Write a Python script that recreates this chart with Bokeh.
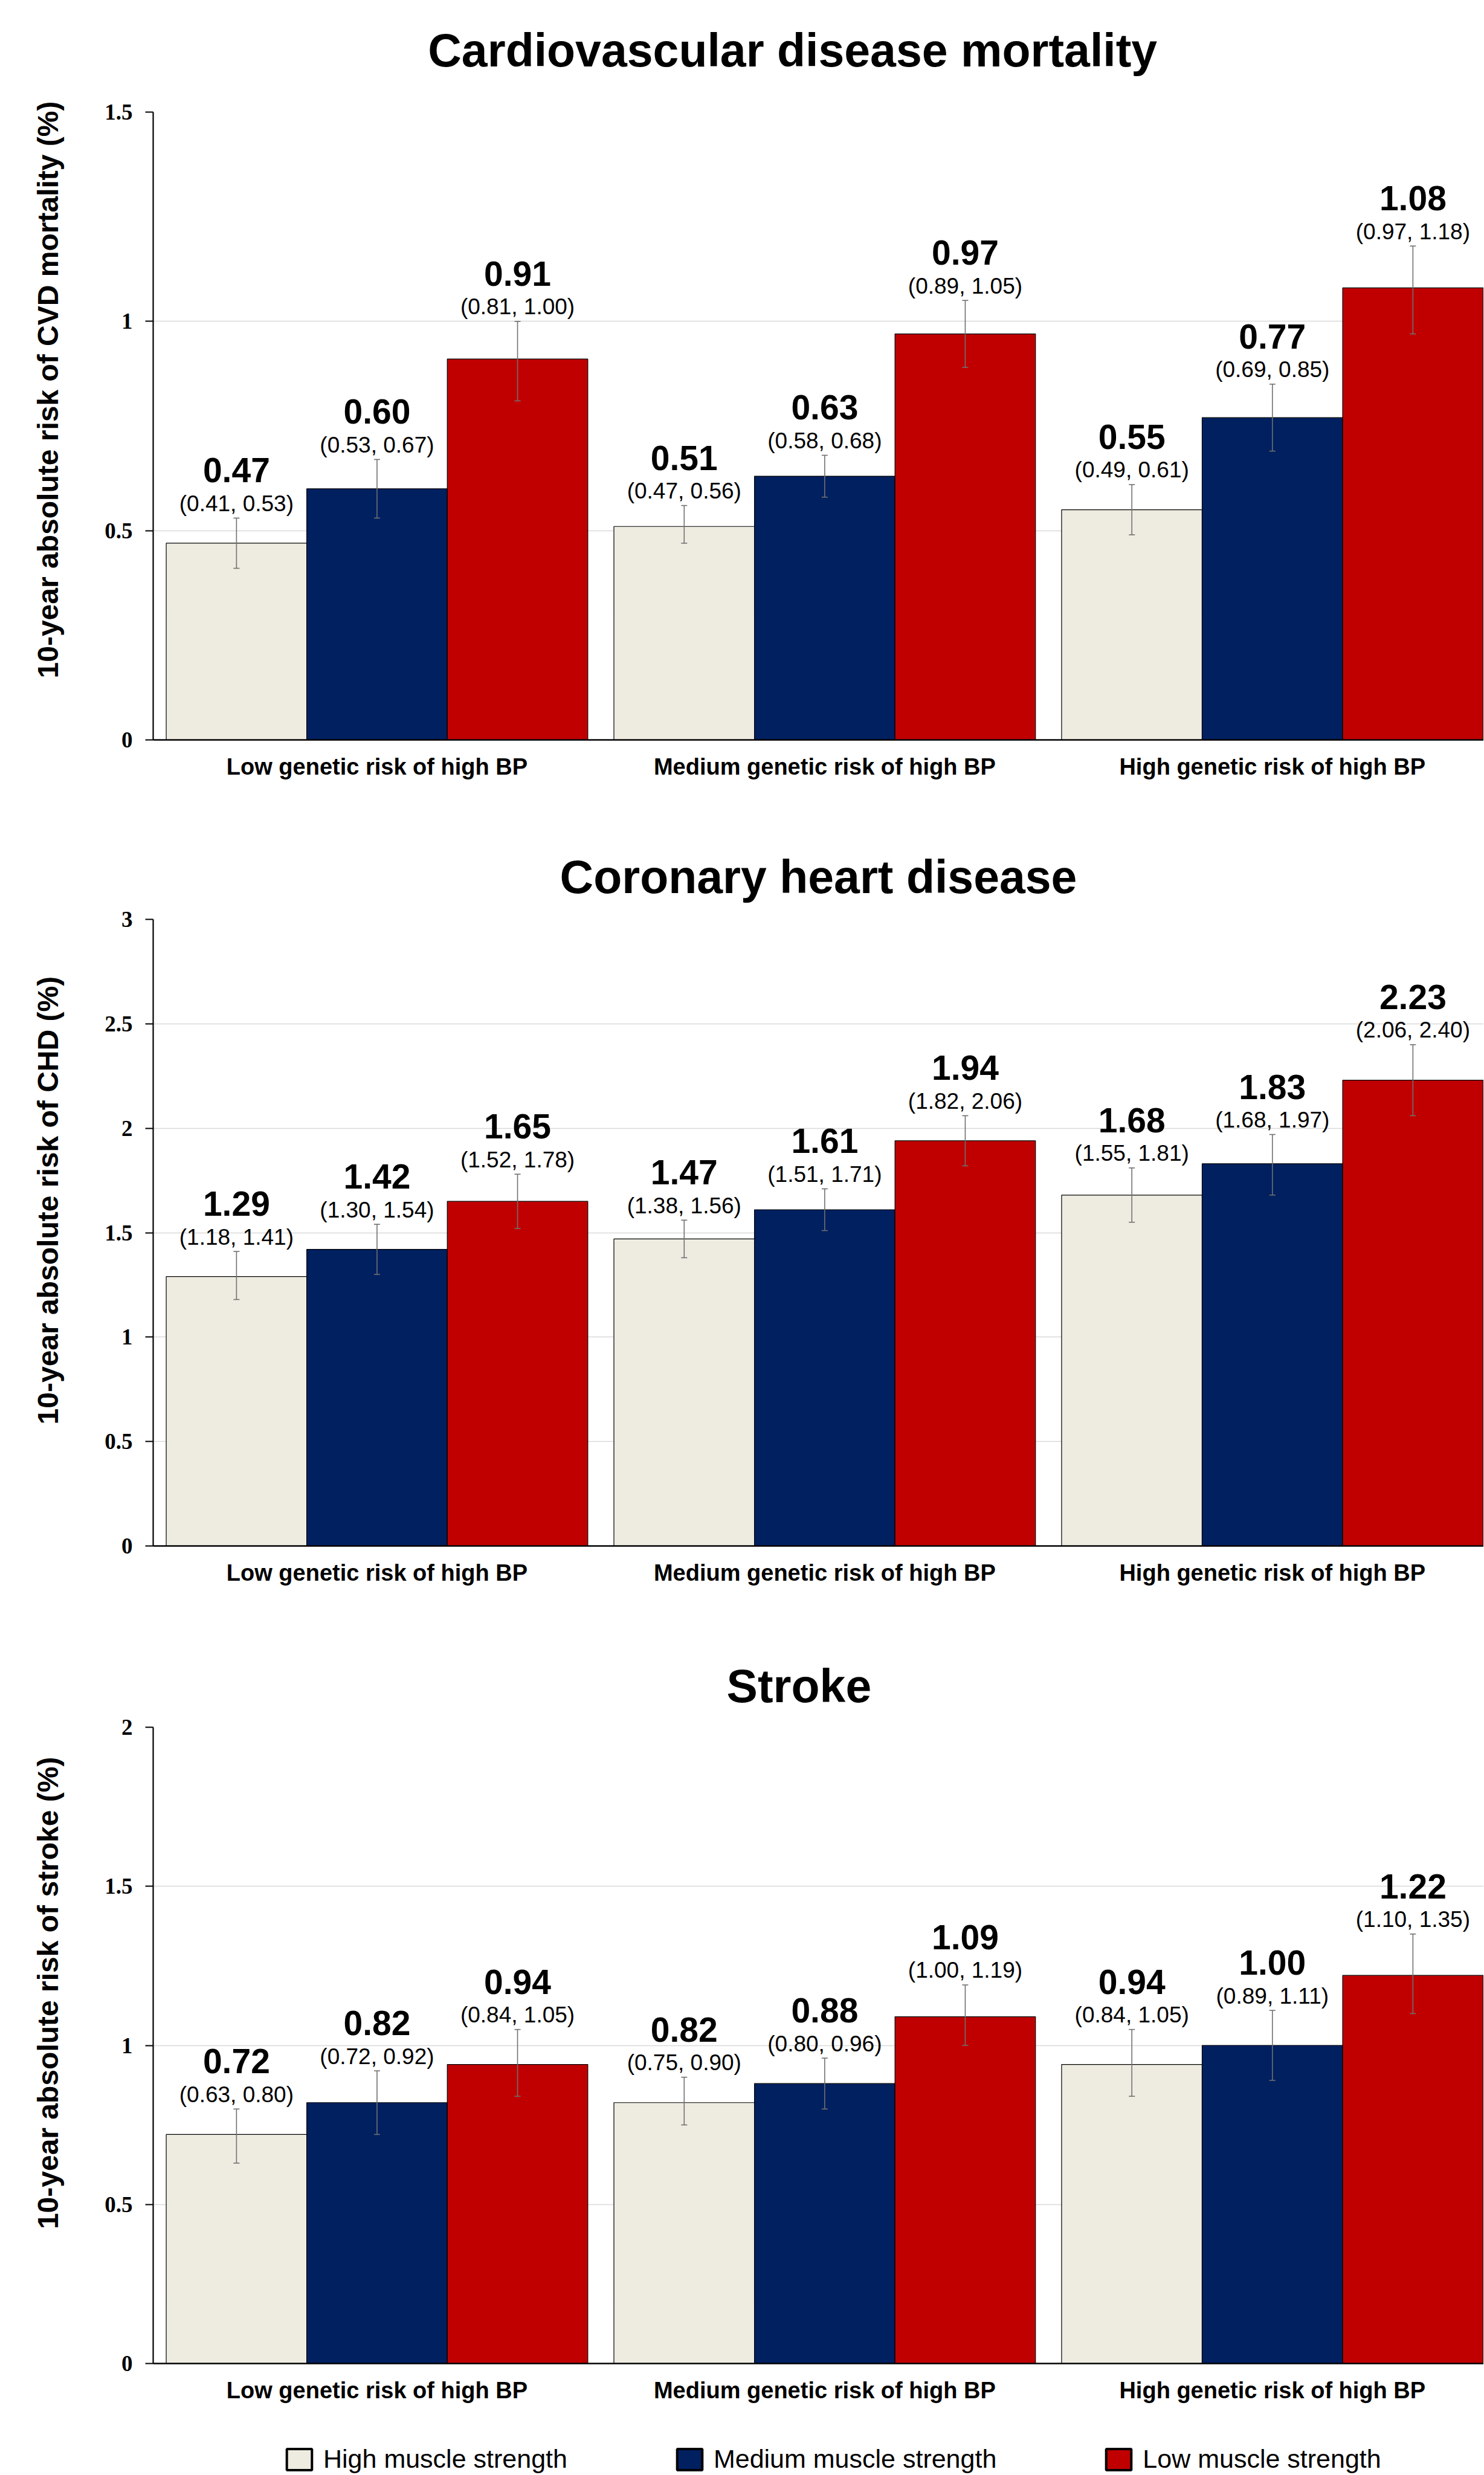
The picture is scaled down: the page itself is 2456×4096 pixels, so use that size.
from bokeh.plotting import figure
from bokeh.layouts import column
from bokeh.models import (ColumnDataSource, Whisker, TeeHead, Legend, LegendItem,
                          FixedTicker, PrintfTickFormatter, Range1d, LinearAxis)
from bokeh.embed import file_html
from bokeh.resources import INLINE
from bokeh.core.properties import value

# ---------------- data ----------------
groups = ["Low genetic risk of high BP", "Medium genetic risk of high BP", "High genetic risk of high BP"]
series = ["High muscle strength", "Medium muscle strength", "Low muscle strength"]

# rows = series (high, medium, low muscle strength); columns = groups
cvd_est = [[0.47, 0.51, 0.55], [0.60, 0.63, 0.77], [0.91, 0.97, 1.08]]
cvd_lo = [[0.41, 0.47, 0.49], [0.53, 0.58, 0.69], [0.81, 0.89, 0.97]]
cvd_hi = [[0.53, 0.56, 0.61], [0.67, 0.68, 0.85], [1.00, 1.05, 1.18]]
cvd_ticks = [0, 0.5, 1, 1.5]

chd_est = [[1.29, 1.47, 1.68], [1.42, 1.61, 1.83], [1.65, 1.94, 2.23]]
chd_lo = [[1.18, 1.38, 1.55], [1.30, 1.51, 1.68], [1.52, 1.82, 2.06]]
chd_hi = [[1.41, 1.56, 1.81], [1.54, 1.71, 1.97], [1.78, 2.06, 2.40]]
chd_ticks = [0, 0.5, 1, 1.5, 2, 2.5, 3]

stroke_est = [[0.72, 0.82, 0.94], [0.82, 0.88, 1.00], [0.94, 1.09, 1.22]]
stroke_lo = [[0.63, 0.75, 0.84], [0.72, 0.80, 0.89], [0.84, 1.00, 1.10]]
stroke_hi = [[0.80, 0.90, 1.05], [0.92, 0.96, 1.11], [1.05, 1.19, 1.35]]
stroke_ticks = [0, 0.5, 1, 1.5, 2]

titles = ["Cardiovascular disease mortality", "Coronary heart disease", "Stroke"]
ylabels = ["10-year absolute risk of CVD mortality (%)",
           "10-year absolute risk of CHD (%)",
           "10-year absolute risk of stroke (%)"]

# ---------------- style ----------------
colors = ["#EEECE1", "#002060", "#C00000"]
EB = "#707070"
BW = 0.3139
W = 2455
SANS = "Liberation Sans"
SERIF = "Liberation Serif"
NBSP = "\u00a0"

# tso: title standoff; tpad / lpad: no-break spaces that nudge the centred
# title left / the centred y title upwards
styles = [
    dict(h=1350, bt=185, bb=126, tso=60, tpad=4, lpad=9),
    dict(h=1330, bt=171, bb=122, tso=28, tpad=0, lpad=8),
    dict(h=1350, bt=178, bb=119, tso=26, tpad=3, lpad=13),
]


def label_axis(text, standoff, size):
    return LinearAxis(ticker=FixedTicker(ticks=[]),
                      axis_label=text, axis_label_standoff=standoff,
                      axis_label_text_font=SANS, axis_label_text_font_style="bold",
                      axis_label_text_font_size=size, axis_label_text_color="black",
                      major_tick_out=0, major_tick_in=0, minor_tick_out=0, minor_tick_in=0,
                      major_tick_line_color=None, minor_tick_line_color=None,
                      axis_line_color=None, major_label_standoff=0)


def make_panel(title, ylabel, est, lo, hi, ticks, st):
    ymax = ticks[-1]
    p = figure(width=W, height=st["h"], x_range=Range1d(-0.5, 2.472),
               y_range=Range1d(0, ymax), output_backend="svg",
               toolbar_location=None, title=None,
               min_border_left=253, min_border_right=0,
               min_border_top=st["bt"], min_border_bottom=st["bb"])
    p.outline_line_color = None
    p.background_fill_color = "white"
    p.border_fill_color = "white"

    p.xgrid.grid_line_color = None
    p.ygrid.grid_line_color = "#D9D9D9"
    p.ygrid.grid_line_width = 1.5

    ya = p.yaxis[0]
    ya.ticker = FixedTicker(ticks=ticks)
    ya.formatter = PrintfTickFormatter(format="%g")
    ya.minor_tick_line_color = None
    ya.major_tick_in = 0
    ya.major_tick_out = 13
    ya.major_tick_line_width = 2
    ya.major_tick_line_color = "black"
    ya.axis_line_width = 2.2
    ya.axis_line_color = "black"
    ya.major_label_standoff = 21
    ya.major_label_text_font = SERIF
    ya.major_label_text_font_style = "bold"
    ya.major_label_text_font_size = "37px"
    ya.major_label_text_color = "black"

    xa = p.xaxis[0]
    xa.ticker = FixedTicker(ticks=[0, 1, 2])
    xa.major_label_overrides = {i: g for i, g in enumerate(groups)}
    xa.minor_tick_line_color = None
    xa.major_tick_line_color = None
    xa.major_tick_in = 0
    xa.major_tick_out = 0
    xa.axis_line_width = 2.5
    xa.axis_line_color = "black"
    xa.major_label_standoff = 23
    xa.major_label_text_font = SANS
    xa.major_label_text_font_style = "bold"
    xa.major_label_text_font_size = "38px"
    xa.major_label_text_color = "black"

    for j in range(3):
        xs = [g + (j - 1) * BW for g in range(len(groups))]
        src = ColumnDataSource(dict(
            x=xs, top=est[j], lo=lo[j], hi=hi[j],
            v=["%.2f" % v for v in est[j]],
            ci=["(%.2f, %.2f)" % (a, b) for a, b in zip(lo[j], hi[j])]))
        p.vbar(x="x", top="top", width=BW, source=src, fill_color=colors[j],
               line_color="black", line_width=1.2)
        wk = Whisker(base="x", upper="hi", lower="lo", source=src,
                     line_color=EB, line_width=1.6, level="annotation",
                     upper_head=TeeHead(size=10, line_color=EB, line_width=1.6),
                     lower_head=TeeHead(size=10, line_color=EB, line_width=1.6))
        p.add_layout(wk)
        p.text(x="x", y="hi", text="ci", source=src, text_font=value(SANS),
               text_font_size=value("37px"), text_align="center",
               text_baseline="middle", y_offset=-24, text_color="black")
        p.text(x="x", y="hi", text="v", source=src, text_font=value(SANS),
               text_font_style="bold", text_font_size=value("57px"),
               text_align="center", text_baseline="middle", y_offset=-79,
               text_color="black")

    # chart title as the label of an extra, tick-less top axis
    p.add_layout(label_axis(title + NBSP * st["tpad"], st["tso"], "77px"), "above")
    # rotated y-axis title as the label of an extra, tick-less left axis
    p.add_layout(label_axis(NBSP * st["lpad"] + ylabel, 65, "48px"), "left")
    return p


def make_legend_panel():
    p = figure(width=W, height=64, x_range=Range1d(0, 1), y_range=Range1d(0, 1),
               output_backend="svg", toolbar_location=None, title=None,
               x_axis_location=None, y_axis_location=None, min_border=0)
    p.outline_line_color = None
    p.xgrid.visible = False
    p.ygrid.visible = False
    items = []
    for j in range(3):
        # hidden legend proxies carrying the swatch style
        r = p.vbar(x=[0.5], top=[1], width=0.1, fill_color=colors[j],
                   line_color="black", line_width=4, visible=False)
        items.append(LegendItem(label=series[j], renderers=[r]))
    lg = Legend(items=items, location=(216, 0), orientation="horizontal",
                glyph_width=52, glyph_height=44, label_standoff=14, spacing=176,
                padding=0, margin=0, border_line_color=None,
                background_fill_alpha=0, label_text_font=SANS,
                label_text_font_size="43px", label_text_color="black")
    p.add_layout(lg, "center")
    return p


p1 = make_panel(titles[0], ylabels[0], cvd_est, cvd_lo, cvd_hi, cvd_ticks, styles[0])
p2 = make_panel(titles[1], ylabels[1], chd_est, chd_lo, chd_hi, chd_ticks, styles[1])
p3 = make_panel(titles[2], ylabels[2], stroke_est, stroke_lo, stroke_hi, stroke_ticks, styles[2])
p4 = make_legend_panel()

layout = column(p1, p2, p3, p4, spacing=0)
open("out.html", "w").write(file_html(layout, INLINE))
